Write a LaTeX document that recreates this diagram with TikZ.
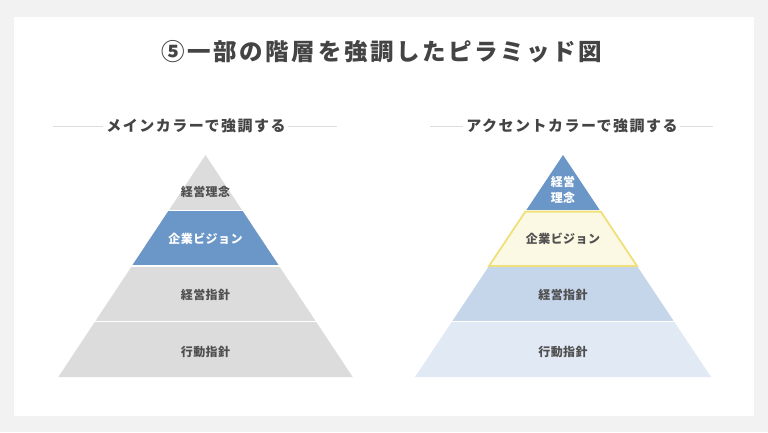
\documentclass[tikz,border=0pt]{standalone}
\usepackage{fontspec}
\usetikzlibrary{calc}
\newfontfamily\jptitle[LetterSpace=11]{Noto Sans CJK JP}
\newfontfamily\jpsub[LetterSpace=10]{Noto Sans CJK JP}
\newfontfamily\jplab[LetterSpace=4]{Noto Sans CJK JP}
\definecolor{bggray}{HTML}{F2F2F2}
\definecolor{txt}{HTML}{444444}
\definecolor{labtxt}{HTML}{505050}
\definecolor{rulegray}{HTML}{DDDDDD}
\definecolor{layergray}{HTML}{DCDCDC}
\definecolor{mainblue}{HTML}{6B96C8}
\definecolor{lightblue}{HTML}{C5D5EA}
\definecolor{paleblue}{HTML}{E1E9F4}
\definecolor{yellowfill}{HTML}{FBF8E4}
\definecolor{yellowline}{HTML}{EFE07C}
\begin{document}
\begin{tikzpicture}[x=1pt,y=-1pt,
  titlestyle/.style={inner sep=0pt,text=txt,font=\jptitle\bfseries\fontsize{23.5}{28}\selectfont},
  substyle/.style={inner sep=0pt,text=txt,font=\jpsub\bfseries\fontsize{15}{18}\selectfont},
  labstyle/.style={inner sep=0pt,text=labtxt,font=\jplab\bfseries\fontsize{12}{16.5}\selectfont,align=center},
  whitelab/.style={labstyle,text=white},
  ruleline/.style={draw=rulegray,line width=1pt},
  gapline/.style={draw=white,line width=1.6pt}]
\useasboundingbox (0,0) rectangle (768,432);
\fill[bggray] (0,0) rectangle (768,432);
\fill[white] (14,17) rectangle (754,416);
% title
\node[titlestyle] (title) at (382,52) {⑤一部の階層を強調したピラミッド図};
% subtitles
\node[substyle] (subL) at (196,126) {メインカラーで強調する};
\node[substyle] (subR) at (572,126) {アクセントカラーで強調する};
\coordinate (sLa) at (53,126);
\coordinate (sLb) at (337,126);
\coordinate (sRa) at (430,126);
\coordinate (sRb) at (713,126);
\draw[ruleline] (sLa) -- ($(subL.west)+(-3,0)$);
\draw[ruleline] ($(subL.east)+(2,0)$) -- (sLb);
\draw[ruleline] (sRa) -- ($(subR.west)+(-3,0)$);
\draw[ruleline] ($(subR.east)+(2,0)$) -- (sRb);
% left pyramid
\coordinate (LA) at (205.5,155);
\coordinate (LBL) at (58.3,377);
\coordinate (LBR) at (352.7,377);
\fill[layergray] (LA) -- (LBL) -- (LBR) -- cycle;
\fill[mainblue] ($(LA)!0.25!(LBL)$) -- ($(LA)!0.5!(LBL)$) -- ($(LA)!0.5!(LBR)$) -- ($(LA)!0.25!(LBR)$) -- cycle;
\foreach \t in {0.25,0.5,0.75}{
  \draw[gapline] ($(LA)!\t!(LBL)+(-2,0)$) -- ($(LA)!\t!(LBR)+(2,0)$);
}
\node[labstyle] (L1) at (205.5,192) {経営理念};
\node[whitelab] (L2) at (205.5,239) {企業ビジョン};
\node[labstyle] (L3) at (205.5,295) {経営指針};
\node[labstyle] (L4) at (205.5,352) {行動指針};
% right pyramid
\coordinate (RA) at (563,155);
\coordinate (RBL) at (415,377);
\coordinate (RBR) at (711,377);
\fill[mainblue] (RA) -- ($(RA)!0.25!(RBL)$) -- ($(RA)!0.25!(RBR)$) -- cycle;
\fill[lightblue] ($(RA)!0.5!(RBL)$) -- ($(RA)!0.75!(RBL)$) -- ($(RA)!0.75!(RBR)$) -- ($(RA)!0.5!(RBR)$) -- cycle;
\fill[paleblue] ($(RA)!0.75!(RBL)$) -- (RBL) -- (RBR) -- ($(RA)!0.75!(RBR)$) -- cycle;
\foreach \t in {0.25,0.5,0.75}{
  \draw[gapline] ($(RA)!\t!(RBL)+(-2,0)$) -- ($(RA)!\t!(RBR)+(2,0)$);
}
\filldraw[fill=yellowfill,draw=yellowline,line width=1.8pt,line join=miter]
  ($(RA)!0.255!(RBL)$) -- ($(RA)!0.5!(RBL)$) -- ($(RA)!0.5!(RBR)$) -- ($(RA)!0.255!(RBR)$) -- cycle;
\node[whitelab] (R1) at (563,190) {経営\\理念};
\node[labstyle] (R2) at (563,239) {企業ビジョン};
\node[labstyle] (R3) at (563,295) {経営指針};
\node[labstyle] (R4) at (563,352) {行動指針};
\end{tikzpicture}
\end{document}
